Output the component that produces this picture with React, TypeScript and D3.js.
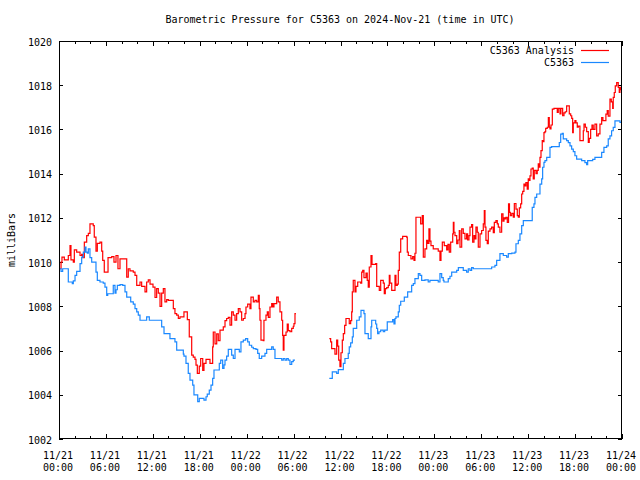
import React from "react";
import * as d3 from "d3";

// ---- data (time in hours since 2024-11-21 00:00 UTC, pressure in mbar) ----
const analysisPart1: [number, number][] = [
  [0.0, 1009.7], [0.26, 1010.0], [0.38, 1010.23], [0.68, 1010.1], [1.19, 1010.3], [1.41, 1010.75],
  [1.53, 1010.1], [1.83, 1010.0], [1.96, 1010.55], [2.26, 1010.45], [2.69, 1010.3], [2.9, 1010.35],
  [3.03, 1010.2], [3.24, 1010.9], [3.54, 1011.2], [3.75, 1011.3], [3.96, 1011.73], [4.38, 1011.65],
  [4.51, 1011.13], [4.73, 1010.5], [4.9, 1010.85], [5.24, 1010.9], [5.46, 1010.5], [5.59, 1010.08],
  [5.79, 1009.55], [6.27, 1010.2], [6.74, 1010.25], [7.03, 1010.0], [7.29, 1010.3], [7.54, 1009.7],
  [7.8, 1010.15], [8.66, 1009.32], [8.86, 1009.7], [9.08, 1009.6], [9.5, 1009.55], [9.72, 1009.4],
  [9.94, 1008.95], [10.36, 1009.1], [10.57, 1008.9], [11.0, 1008.65], [11.21, 1009.1], [11.42, 1009.2],
  [11.64, 1009.0], [12.02, 1008.87], [12.28, 1008.4], [12.49, 1008.8], [12.7, 1008.6], [12.92, 1008.0],
  [13.13, 1008.6], [13.34, 1008.8], [13.55, 1008.2], [13.77, 1008.3], [13.98, 1008.27], [14.62, 1007.9],
  [14.83, 1007.67], [15.05, 1007.6], [15.26, 1007.45], [15.47, 1007.52], [15.98, 1007.75], [16.41, 1007.4],
  [16.66, 1006.62], [16.97, 1005.79], [17.17, 1005.7], [17.39, 1005.6], [17.52, 1005.34], [17.69, 1004.97],
  [17.94, 1005.3], [18.12, 1005.64], [18.38, 1005.1], [18.54, 1005.42], [18.8, 1005.6], [19.31, 1005.42],
  [19.65, 1006.17], [19.73, 1006.84], [19.95, 1006.3], [20.17, 1006.75], [20.37, 1006.45], [20.59, 1006.92],
  [21.01, 1007.07], [21.23, 1007.35], [21.44, 1007.45], [21.65, 1007.5], [21.87, 1007.15], [22.08, 1007.75],
  [22.29, 1007.6], [22.51, 1007.37], [22.72, 1007.67], [22.93, 1007.9], [23.15, 1007.75], [23.36, 1007.37],
  [23.57, 1007.45], [23.79, 1007.67], [23.91, 1007.97], [24.13, 1008.1], [24.42, 1007.9], [24.55, 1008.42],
  [24.85, 1008.2], [25.06, 1008.27], [25.28, 1008.2], [25.49, 1008.5], [25.61, 1007.9], [25.7, 1007.37],
  [25.83, 1006.47], [26.13, 1006.45], [26.21, 1007.37], [26.47, 1007.6], [26.64, 1007.75], [26.77, 1007.5],
  [26.98, 1007.97], [27.2, 1008.12], [27.33, 1007.97], [27.49, 1008.12], [27.84, 1008.42], [28.04, 1008.2],
  [28.26, 1007.75], [28.48, 1007.37], [28.6, 1006.69], [28.68, 1006.02], [28.77, 1006.69], [29.03, 1006.84],
  [29.19, 1007.2], [29.32, 1006.9], [29.54, 1006.85], [29.76, 1007.0], [29.96, 1007.1], [30.05, 1007.22],
  [30.18, 1007.67], [30.3, 1007.67],
];

const analysisPart2: [number, number][] = [
  [34.57, 1006.54], [34.74, 1006.39], [34.87, 1006.09], [35.29, 1005.84], [35.51, 1006.47], [35.64, 1006.2],
  [35.77, 1005.57], [35.93, 1005.27], [36.06, 1005.9], [36.23, 1006.47], [36.36, 1006.77], [36.53, 1007.14],
  [36.7, 1007.45], [37.12, 1007.22], [37.3, 1007.35], [37.43, 1007.75], [37.51, 1008.65], [37.63, 1009.17],
  [37.85, 1008.65], [37.98, 1008.9], [38.2, 1009.1], [38.58, 1009.05], [38.71, 1009.55], [38.84, 1009.63],
  [39.0, 1009.3], [39.26, 1009.5], [39.42, 1009.17], [39.55, 1008.87], [39.68, 1009.78], [39.9, 1010.3],
  [40.03, 1009.9], [40.5, 1009.93], [40.63, 1008.9], [40.96, 1008.72], [41.14, 1009.17], [41.47, 1009.05],
  [41.6, 1008.57], [41.73, 1008.8], [41.91, 1008.85], [42.11, 1008.95], [42.24, 1009.4], [42.33, 1009.05],
  [42.55, 1008.72], [42.97, 1009.4], [43.09, 1008.95], [43.26, 1009.0], [43.39, 1009.63], [43.52, 1010.45],
  [43.7, 1011.05], [43.95, 1011.16], [44.46, 1011.13], [44.54, 1010.45], [44.67, 1010.3], [45.01, 1010.15],
  [45.23, 1010.25], [45.4, 1010.08], [45.52, 1010.4], [45.65, 1012.03], [46.25, 1011.73], [46.46, 1012.1],
  [46.59, 1010.23], [46.8, 1010.6], [47.02, 1010.98], [47.15, 1010.85], [47.31, 1011.5], [47.44, 1010.95],
  [47.57, 1010.75], [47.86, 1010.6], [48.5, 1010.5], [48.72, 1010.08], [48.85, 1010.5], [49.02, 1010.9],
  [49.27, 1010.75], [49.58, 1010.55], [49.74, 1010.8], [49.91, 1010.45], [50.09, 1010.9], [50.35, 1011.28],
  [50.43, 1011.8], [50.51, 1011.35], [50.64, 1011.2], [50.86, 1010.83], [51.02, 1011.0], [51.19, 1011.43],
  [51.28, 1010.68], [51.5, 1011.5], [51.7, 1011.3], [51.92, 1011.05], [52.13, 1011.28], [52.26, 1011.0],
  [52.43, 1011.2], [52.56, 1011.58], [52.77, 1011.7], [52.9, 1010.9], [53.07, 1011.2], [53.2, 1011.05],
  [53.32, 1011.58], [53.49, 1011.35], [53.62, 1010.68], [53.84, 1011.28], [54.05, 1011.43], [54.26, 1011.73],
  [54.39, 1012.33], [54.48, 1011.58], [54.6, 1010.98], [54.77, 1010.83], [54.9, 1011.4], [55.12, 1011.5],
  [55.33, 1011.58], [55.54, 1011.33], [55.67, 1011.8], [55.88, 1011.88], [56.05, 1011.73], [56.18, 1011.58],
  [56.39, 1011.35], [56.61, 1012.18], [56.78, 1011.85], [56.91, 1012.0], [57.03, 1011.95], [57.16, 1012.03],
  [57.33, 1011.8], [57.49, 1012.63], [57.61, 1012.25], [57.72, 1012.1], [57.9, 1012.2], [58.1, 1012.03],
  [58.23, 1012.65], [58.44, 1012.4], [58.61, 1012.1], [58.74, 1012.03], [58.87, 1012.45], [59.04, 1012.63],
  [59.17, 1013.08], [59.3, 1013.2], [59.46, 1013.53], [59.59, 1013.45], [59.71, 1013.6], [59.88, 1013.3],
  [60.01, 1013.76], [60.14, 1013.7], [60.23, 1013.9], [60.36, 1014.21], [60.52, 1014.25], [60.65, 1013.76],
  [60.78, 1014.15], [61.0, 1014.0], [61.16, 1014.15], [61.29, 1014.44], [61.42, 1014.3], [61.51, 1014.74],
  [61.64, 1015.04], [61.8, 1015.49], [61.94, 1015.45], [62.02, 1015.86], [62.15, 1015.9], [62.24, 1016.05],
  [62.44, 1016.1], [62.58, 1016.54], [62.7, 1016.1], [62.79, 1016.02], [62.92, 1016.2], [63.09, 1016.92],
  [63.3, 1016.95], [63.72, 1016.77], [63.85, 1016.95], [64.07, 1016.7], [64.19, 1016.95], [64.41, 1016.62],
  [64.58, 1016.75], [64.74, 1016.8], [64.92, 1017.07], [65.26, 1016.7], [65.44, 1016.62], [65.57, 1016.5],
  [65.69, 1015.86], [65.77, 1016.3], [65.98, 1016.4], [66.11, 1016.3], [66.28, 1016.1], [66.41, 1016.15],
  [66.62, 1015.49], [67.05, 1015.94], [67.14, 1016.24], [67.31, 1016.1], [67.48, 1015.9], [67.69, 1015.41],
  [67.81, 1015.6], [67.99, 1016.0], [68.16, 1016.2], [68.32, 1016.0], [68.54, 1016.24], [68.76, 1015.71],
  [68.96, 1015.8], [69.18, 1016.24], [69.4, 1016.54], [69.56, 1016.4], [69.82, 1016.4], [69.94, 1016.69],
  [70.11, 1016.85], [70.24, 1016.6], [70.46, 1017.37], [70.63, 1017.25], [70.81, 1016.95], [70.88, 1017.45],
  [71.01, 1017.67], [71.14, 1017.97], [71.32, 1018.12], [71.52, 1017.9], [71.65, 1017.67], [71.74, 1017.9],
  [71.83, 1017.8], [72.0, 1017.8],
];

const stationPart1: [number, number][] = [
  [0.0, 1009.7], [0.26, 1009.58], [0.47, 1009.7], [1.19, 1009.1], [1.7, 1009.03], [1.83, 1009.15],
  [2.05, 1009.4], [2.26, 1009.58], [2.69, 1009.93], [2.9, 1010.23], [3.11, 1010.45], [3.32, 1010.68],
  [3.45, 1010.45], [3.62, 1010.4], [3.75, 1010.6], [3.96, 1010.2], [4.18, 1010.0], [4.73, 1009.55],
  [4.9, 1009.17], [5.24, 1009.1], [5.66, 1009.05], [5.88, 1008.87], [6.1, 1008.5], [6.23, 1008.57],
  [6.94, 1008.95], [7.16, 1008.6], [7.29, 1008.75], [7.46, 1008.95], [7.8, 1008.98], [8.15, 1008.95],
  [8.44, 1008.65], [8.66, 1008.42], [9.17, 1008.2], [9.5, 1008.1], [9.72, 1007.9], [9.94, 1007.75],
  [10.14, 1007.6], [10.36, 1007.37], [11.21, 1007.52], [11.55, 1007.37], [13.13, 1007.07], [13.43, 1006.77],
  [14.19, 1006.54], [14.83, 1006.39], [15.05, 1006.02], [15.9, 1005.84], [15.98, 1005.75], [16.24, 1005.42],
  [16.53, 1004.97], [16.75, 1004.66], [17.1, 1004.44], [17.26, 1004.0], [17.74, 1003.69], [17.94, 1003.84],
  [18.54, 1003.76], [18.8, 1003.91], [18.96, 1004.03], [19.22, 1004.21], [19.44, 1004.44], [19.65, 1004.74],
  [19.82, 1005.12], [20.5, 1005.42], [20.68, 1005.57], [20.93, 1005.19], [21.1, 1005.35], [21.23, 1005.57],
  [21.44, 1005.75], [21.65, 1006.05], [22.08, 1005.79], [22.29, 1005.64], [22.51, 1006.05], [23.06, 1005.94],
  [23.27, 1006.39], [23.57, 1006.47], [23.87, 1006.54], [24.13, 1006.39], [24.34, 1006.24], [24.64, 1006.15],
  [24.85, 1006.09], [25.19, 1006.05], [25.41, 1005.87], [25.61, 1005.64], [25.92, 1005.75], [26.34, 1005.87],
  [26.56, 1006.05], [27.2, 1006.17], [27.4, 1006.05], [27.62, 1005.64], [28.48, 1005.57], [28.68, 1005.64],
  [28.9, 1005.57], [29.12, 1005.64], [29.32, 1005.57], [29.54, 1005.37], [29.76, 1005.5], [29.96, 1005.57],
  [30.18, 1005.57],
];

const stationPart2: [number, number][] = [
  [34.57, 1004.74], [34.95, 1005.04], [35.51, 1004.97], [35.72, 1005.14], [36.36, 1005.42], [36.57, 1005.64],
  [36.99, 1005.87], [37.12, 1006.17], [37.3, 1006.35], [37.51, 1006.62], [37.63, 1007.0], [38.07, 1007.37],
  [38.4, 1007.52], [38.62, 1007.82], [39.0, 1007.67], [39.13, 1006.77], [39.55, 1006.54], [39.9, 1007.07],
  [39.99, 1007.37], [40.5, 1007.2], [40.63, 1007.0], [40.75, 1006.77], [40.92, 1006.85], [41.14, 1006.92],
  [41.47, 1006.85], [41.65, 1006.92], [41.98, 1007.3], [42.67, 1007.4], [42.84, 1007.2], [42.97, 1007.45],
  [43.09, 1007.52], [43.39, 1007.75], [43.52, 1008.05], [43.7, 1008.23], [44.16, 1008.42], [44.59, 1008.65],
  [45.1, 1008.95], [45.31, 1009.03], [45.52, 1009.25], [45.95, 1009.48], [46.16, 1009.4], [46.38, 1009.17],
  [46.8, 1009.2], [47.22, 1009.1], [47.44, 1009.17], [48.5, 1009.1], [48.72, 1009.48], [48.94, 1009.3],
  [49.14, 1009.17], [49.23, 1009.1], [49.78, 1009.25], [50.0, 1009.36], [50.22, 1009.55], [50.86, 1009.63],
  [51.07, 1009.75], [51.7, 1009.63], [52.13, 1009.55], [52.34, 1009.7], [52.56, 1009.63], [52.77, 1009.75],
  [52.98, 1009.7], [55.33, 1009.78], [55.75, 1009.85], [55.97, 1010.08], [56.39, 1010.38], [56.82, 1010.3],
  [57.25, 1010.23], [57.46, 1010.38], [57.9, 1010.41], [58.31, 1010.45], [58.44, 1010.83], [58.74, 1010.98],
  [58.95, 1011.28], [59.17, 1011.65], [59.38, 1011.88], [60.52, 1012.48], [60.74, 1012.63], [60.87, 1012.93],
  [61.09, 1013.08], [61.51, 1013.53], [61.73, 1013.76], [61.85, 1014.29], [62.02, 1014.51], [62.15, 1014.59],
  [62.37, 1014.74], [62.79, 1015.19], [63.0, 1015.22], [63.98, 1015.41], [64.16, 1015.79], [64.36, 1015.82],
  [64.49, 1015.57], [64.92, 1015.49], [65.13, 1015.4], [65.35, 1015.26], [65.56, 1015.11], [65.77, 1015.0],
  [65.98, 1014.81], [66.2, 1014.66], [66.84, 1014.59], [67.26, 1014.5], [67.48, 1014.41], [67.61, 1014.59],
  [68.25, 1014.65], [68.54, 1014.74], [69.4, 1014.96], [69.69, 1015.19], [70.04, 1015.26], [70.24, 1015.57],
  [70.46, 1015.71], [70.67, 1015.94], [70.88, 1016.09], [71.1, 1016.39], [71.74, 1016.32], [72.0, 1016.32],
];

const seriesNames = ["C5363 Analysis", "C5363"];
const seriesColors = ["#ff0000", "#1a88ff"];
const titleText = "Barometric Pressure for C5363 on 2024-Nov-21 (time in UTC)";
const yLabel = "milliBars";
const yDomain: [number, number] = [1002, 1020];
const hoursSpan = 72;

const START = Date.UTC(2024, 10, 21);
const toDate = (h: number) => new Date(START + h * 3600 * 1000);

const W = 640, H = 480;
const L = 59, R = 622, T = 41, B = 439;
const FONT = "'DejaVu Sans Mono', 'Liberation Mono', monospace";

export default function App() {
  const x = d3.scaleUtc().domain([toDate(0), toDate(hoursSpan)]).range([L, R]);
  const y = d3.scaleLinear().domain(yDomain).range([B, T]);
  const majors = x.ticks(d3.utcHour.every(6)!);
  const majorSet = new Set(majors.map((d) => +d));
  const minors = x.ticks(d3.utcHour.every(2)!).filter((d) => !majorSet.has(+d));
  const yTicks = y.ticks(9);
  const fmtDate = d3.utcFormat("%m/%d");
  const fmtTime = d3.utcFormat("%H:%M");

  const line = d3
    .line<[number, number]>()
    .x((d) => x(toDate(d[0])))
    .y((d) => y(d[1]))
    .curve(d3.curveStepAfter);

  const px = (v: number) => Math.round(v) + 0.5;

  return (
    <svg width={W} height={H} style={{ position: "absolute", left: 0, top: 0, background: "#fff" }}
      fontFamily={FONT} fontSize={10}>
      <rect x={0} y={0} width={W} height={H} fill="#fff" />
      <text x={340} y={19} textAnchor="middle" dominantBaseline="central">{titleText}</text>
      <text transform={`translate(11,${(T + B) / 2}) rotate(-90)`} textAnchor="middle" dominantBaseline="central">{yLabel}</text>

      {/* y ticks */}
      {yTicks.map((t) => (
        <g key={"y" + t}>
          <line x1={L} x2={L + 4} y1={px(y(t))} y2={px(y(t))} stroke="#000" shapeRendering="crispEdges" />
          <line x1={R - 4} x2={R} y1={px(y(t))} y2={px(y(t))} stroke="#000" shapeRendering="crispEdges" />
          <text x={52} y={y(t) + 1} textAnchor="end" dominantBaseline="central">{t}</text>
        </g>
      ))}
      {/* x ticks */}
      {majors.map((d) => (
        <g key={"M" + +d}>
          <line x1={px(x(d))} x2={px(x(d))} y1={B} y2={B - 5} stroke="#000" shapeRendering="crispEdges" />
          <line x1={px(x(d))} x2={px(x(d))} y1={T} y2={T + 5} stroke="#000" shapeRendering="crispEdges" />
          <text x={x(d) - 1} y={455.5} textAnchor="middle" dominantBaseline="central">{fmtDate(d)}</text>
          <text x={x(d) - 1} y={467.5} textAnchor="middle" dominantBaseline="central">{fmtTime(d)}</text>
        </g>
      ))}
      {minors.map((d) => (
        <g key={"m" + +d}>
          <line x1={px(x(d))} x2={px(x(d))} y1={B} y2={B - 3} stroke="#000" shapeRendering="crispEdges" />
          <line x1={px(x(d))} x2={px(x(d))} y1={T} y2={T + 3} stroke="#000" shapeRendering="crispEdges" />
        </g>
      ))}

      {/* data */}
      <path d={line(analysisPart1) || ""} fill="none" stroke={seriesColors[0]} strokeWidth={1.2} />
      <path d={line(analysisPart2) || ""} fill="none" stroke={seriesColors[0]} strokeWidth={1.2} />
      <path d={line(stationPart1) || ""} fill="none" stroke={seriesColors[1]} strokeWidth={1.2} />
      <path d={line(stationPart2) || ""} fill="none" stroke={seriesColors[1]} strokeWidth={1.2} />

      {/* legend */}
      {seriesNames.map((name, i) => (
        <g key={name}>
          <text x={574} y={50 + i * 12} textAnchor="end" dominantBaseline="central">{name}</text>
          <line x1={581} x2={609} y1={50.5 + i * 12} y2={50.5 + i * 12} stroke={seriesColors[i]} strokeWidth={1.2} />
        </g>
      ))}

      {/* frame */}
      <rect x={L + 0.5} y={T + 0.5} width={R - L - 1} height={B - T - 1} fill="none" stroke="#000" shapeRendering="crispEdges" />
    </svg>
  );
}
